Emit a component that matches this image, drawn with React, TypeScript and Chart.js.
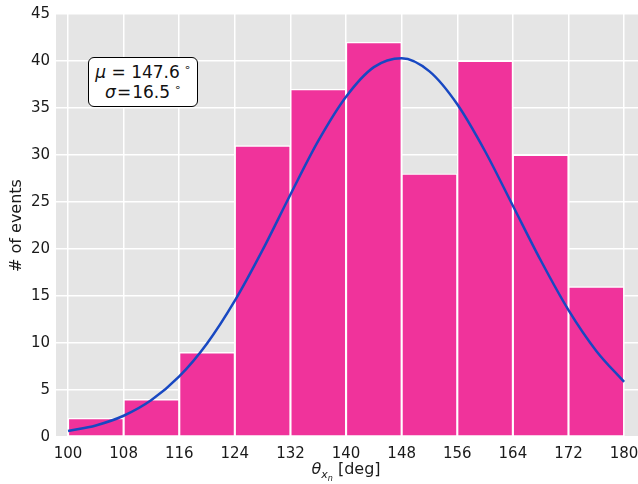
import React, { useEffect, useRef } from "react";
import { Chart, registerables } from "chart.js";

Chart.register(...registerables);

// Histogram bins (degrees)
const binEdges = [100, 108, 116, 124, 132, 140, 148, 156, 164, 172, 180];
const counts = [2, 4, 9, 31, 37, 42, 28, 40, 30, 16];

// Fitted curve
const curveX = [100, 104, 108, 112, 116, 120, 124, 128, 132, 136, 140, 144, 148, 152, 156, 160, 164, 168, 172, 176, 180];
const curveY = [0.63, 1.23, 2.26, 3.93, 6.44, 9.95, 14.5, 19.9, 25.8, 31.5, 36.2, 39.35, 40.3, 38.9, 35.4, 30.4, 24.6, 18.8, 13.5, 9.16, 5.86];

const xTicks = [100, 108, 116, 124, 132, 140, 148, 156, 164, 172, 180];
const yTicks = [0, 5, 10, 15, 20, 25, 30, 35, 40, 45];

const FONT = "'DejaVu Sans', sans-serif";

export default function App() {
  const ref = useRef<HTMLCanvasElement | null>(null);

  useEffect(() => {
    if (!ref.current) return;
    const centers = counts.map((_, i) => (binEdges[i] + binEdges[i + 1]) / 2);
    const bgPlugin = {
      id: "bgArea",
      beforeDraw(chart: any) {
        const { ctx, chartArea } = chart;
        ctx.save();
        ctx.fillStyle = "#e5e5e5";
        ctx.fillRect(chartArea.left, chartArea.top, chartArea.right - chartArea.left, chartArea.bottom - chartArea.top);
        ctx.restore();
      },
    };
    const chart = new Chart(ref.current, {
      type: "bar",
      data: {
        datasets: [
          {
            type: "line",
            data: curveX.map((x, i) => ({ x, y: curveY[i] })),
            borderColor: "#1848c2",
            borderWidth: 2.5,
            pointRadius: 0,
            tension: 0.4,
            cubicInterpolationMode: "monotone",
            order: 0,
          } as any,
          {
            type: "bar",
            data: centers.map((x, i) => ({ x, y: counts[i] })),
            backgroundColor: "#f0339b",
            borderColor: "#ffffff",
            borderWidth: 1.4,
            borderSkipped: false,
            barPercentage: 1,
            categoryPercentage: 1,
            order: 1,
          } as any,
        ],
      },
      options: {
        responsive: false,
        animation: false,
        layout: { padding: { top: 14, left: 0, right: 0, bottom: 0 } },
        plugins: { legend: { display: false }, tooltip: { enabled: false } },
        scales: {
          x: {
            type: "linear",
            min: 98.27,
            max: 182,
            offset: false,
            afterBuildTicks: (axis: any) => {
              axis.ticks = xTicks.map((v) => ({ value: v }));
            },
            afterFit: (axis: any) => {
              axis.height = 47;
              axis.paddingLeft = 0;
              axis.paddingRight = 0;
            },
            grid: { color: "#ffffff", lineWidth: 1.5, drawTicks: false, offset: false },
            border: { display: false },
            ticks: {
              autoSkip: false,
              maxRotation: 0,
              padding: 8,
              color: "#1a1a1a",
              font: { family: FONT, size: 15 },
              callback: (v: any) => String(v),
            },
          },
          y: {
            type: "linear",
            min: 0,
            max: 45,
            afterBuildTicks: (axis: any) => {
              axis.ticks = yTicks.map((v) => ({ value: v }));
            },
            afterFit: (axis: any) => {
              axis.width = 56;
              axis.paddingTop = 0;
              axis.paddingBottom = 0;
            },
            grid: { color: "#ffffff", lineWidth: 1.5, drawTicks: false },
            border: { display: false },
            ticks: {
              padding: 6,
              color: "#1a1a1a",
              font: { family: FONT, size: 15 },
              callback: (v: any) => String(v),
            },
            title: {
              display: true,
              text: "# of events",
              color: "#1a1a1a",
              font: { family: FONT, size: 16 },
              padding: { top: 7, bottom: 0 },
            },
          },
        },
      },
      plugins: [bgPlugin],
    } as any);
    return () => chart.destroy();
  }, []);

  const deg = (
    <span style={{ position: "relative", top: -7, fontSize: 11, marginLeft: 4 }}>∘</span>
  );

  return (
    <div style={{ position: "fixed", left: 0, top: 0, width: 638, height: 484, background: "#fff", overflow: "hidden" }}>
      <canvas ref={ref} width={638} height={484} style={{ display: "block" }} />
      <div
        style={{
          position: "absolute",
          left: 88,
          top: 57,
          width: 110,
          height: 50,
          border: "1.3px solid #000",
          borderRadius: 6,
          background: "#fff",
          fontFamily: FONT,
          fontSize: 17,
          color: "#111",
          textAlign: "center",
          lineHeight: "20px",
          paddingTop: 4,
          boxSizing: "border-box",
          whiteSpace: "nowrap",
        }}
      >
        <div style={{ height: 20 }}>
          <i>μ</i> = 147.6{deg}
        </div>
        <div style={{ height: 20 }}>
          <i>σ</i>
          <span style={{ margin: "0 1px" }}>=</span>16.5{deg}
        </div>
      </div>
      <div
        style={{
          position: "absolute",
          left: 346,
          top: 460,
          transform: "translateX(-50%)",
          fontFamily: FONT,
          fontSize: 16,
          color: "#1a1a1a",
          whiteSpace: "nowrap",
          lineHeight: "18px",
        }}
      >
        <i>θ</i>
        <span style={{ position: "relative", top: 4, fontSize: 11 }}>
          <i>x</i>
          <span style={{ position: "relative", top: 3, fontSize: 8 }}>
            <i>n</i>
          </span>
        </span>{" "}
        [deg]
      </div>
    </div>
  );
}
